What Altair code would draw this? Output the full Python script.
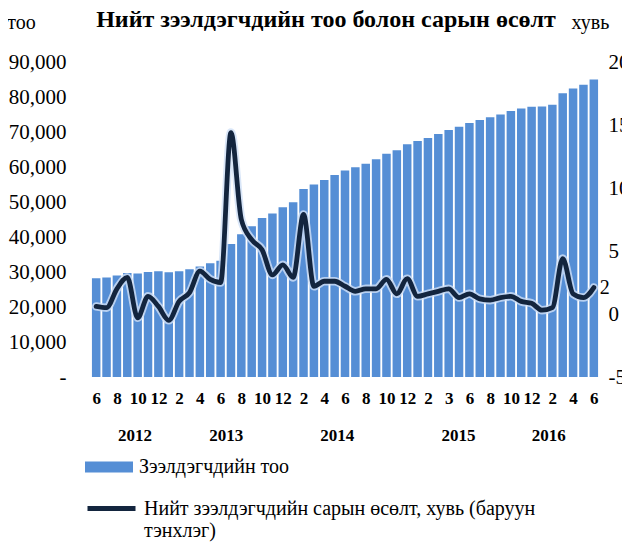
import altair as alt
import pandas as pd

# ---- data ----
month_labels = ["6", "8", "10", "12", "2", "4", "6", "8", "10", "12", "2", "4", "6",
                "8", "10", "12", "2", "3", "6", "8", "10", "12", "2", "4", "6"]

borrowers = [28200, 28400, 29000, 29700, 29600, 30000, 30200, 29900, 30200, 30800,
             31600, 32500, 33200, 38000, 40800, 43100, 45400, 46700, 48500, 49900,
             53700, 55000, 56300, 57700, 59000, 59900, 60900, 62200, 63800, 64800,
             66500, 67400, 68300, 69400, 70600, 71500, 72600, 73400, 74200, 75000,
             76000, 76700, 77200, 77300, 77800, 81100, 82400, 83500, 85000]

growth = [0.6, 0.5, 2.0, 2.9, -0.3, 1.4, 0.6, -0.5, 1.0, 1.7,
          3.4, 2.75, 2.5, 14.4, 7.5, 5.9, 5.1, 3.1, 3.9, 2.9,
          7.9, 2.2, 2.6, 2.6, 2.2, 1.8, 2.0, 2.0, 2.75, 1.6,
          2.8, 1.4, 1.6, 1.8, 2.0, 1.3, 1.6, 1.2, 1.1, 1.3,
          1.4, 1.0, 0.85, 0.3, 0.5, 4.4, 1.6, 1.3, 2.1]

years = ["2012", "2013", "2014", "2015", "2016"]
year_pos = [3.7, 12.5, 23.2, 34.9, 43.6]

bar_name = "Зээлдэгчдийн тоо"
line_name = "Нийт зээлдэгчдийн сарын өсөлт, хувь (баруун тэнхлэг)"
line_lines = ["Нийт зээлдэгчдийн сарын өсөлт, хувь (баруун", "тэнхлэг)"]

FONT = "Liberation Serif"
BAR_COLOR = "#558ED5"
LINE_COLOR = "#13253E"

n = len(borrowers)
df = pd.DataFrame({
    "idx": list(range(n)),
    "x0": [i - 0.41 for i in range(n)],
    "x1": [i + 0.41 for i in range(n)],
    "borrowers": borrowers,
    "growth": growth,
    "s_bar": [bar_name] * n,
    "s_line": [line_name] * n,
})
last = df.tail(1)
ydf = pd.DataFrame({"year": years, "pos": year_pos})

xdom = alt.Scale(domain=[-0.5, n - 0.5], nice=False, zero=False)

month_expr = "[" + ",".join("'" + m + "'" for m in month_labels) + "][datum.value/2]"
year_expr = ("[" + ",".join("'" + y + "'" for y in years) + "][indexof(["
             + ",".join(str(p) for p in year_pos) + "], datum.value)]")
line_label_expr = "[" + ",".join("'" + t + "'" for t in line_lines) + "]"

bars = alt.Chart(df).mark_rect(color=BAR_COLOR).encode(
    x=alt.X("x0:Q", scale=xdom, axis=alt.Axis(
        values=list(range(0, n, 2)), labelExpr=month_expr, title=None,
        labelFont=FONT, labelFontSize=17, labelFontWeight="bold", labelColor="#000",
        labelPadding=13, ticks=False, domain=False, grid=False,
        labelOverlap=False, labelFlush=False, labelBound=False)),
    x2="x1:Q",
    y=alt.Y("borrowers:Q", scale=alt.Scale(domain=[0, 90000], nice=False),
            axis=alt.Axis(values=list(range(0, 90001, 10000)),
                          labelExpr="datum.value == 0 ? '-\u00a0\u00a0' : format(datum.value, ',')",
                          title="тоо", titleAngle=0, titleX=-70, titleY=-40,
                          titleAlign="center", titleBaseline="middle",
                          titleFont=FONT, titleFontSize=20, titleFontWeight="normal",
                          titleColor="#000",
                          labelFont=FONT, labelFontSize=21, labelColor="#000",
                          labelPadding=25, ticks=False, domain=False, grid=False,
                          labelFlush=False, labelOverlap=False)),
    y2=alt.datum(0),
    fill=alt.Fill("s_bar:N", scale=alt.Scale(range=[BAR_COLOR]),
                  legend=alt.Legend(title=None, orient="none", legendX=-6, legendY=381,
                                    symbolType="M-1,-0.23H1V0.23H-1Z", symbolSize=2304,
                                    symbolStrokeWidth=0, labelFont=FONT, labelFontSize=20,
                                    labelColor="#000", labelOffset=6, labelLimit=600)),
)

yline = alt.Scale(domain=[-5, 20], nice=False)
right_axis = alt.Axis(orient="right", values=[-5, 0, 5, 10, 15, 20],
                      labelExpr="datum.value + ''",
                      title="хувь", titleAngle=0, titleX=-9, titleY=-40,
                      titleAlign="center", titleBaseline="middle",
                      titleFont=FONT, titleFontSize=20, titleFontWeight="normal",
                      titleColor="#000",
                      labelFont=FONT, labelFontSize=21, labelColor="#000",
                      labelPadding=9, ticks=False, domain=False, grid=False,
                      labelFlush=False, labelOverlap=False)

halo = alt.Chart(df).mark_line(color="#cfe0f6", strokeWidth=8.5, interpolate="monotone",
                               strokeCap="round", opacity=0.8).encode(
    x=alt.X("idx:Q", scale=xdom, axis=None),
    y=alt.Y("growth:Q", scale=yline, axis=right_axis),
)

line = alt.Chart(df).mark_line(strokeWidth=4.8, interpolate="monotone",
                               strokeCap="round", strokeJoin="round").encode(
    x=alt.X("idx:Q", scale=xdom, axis=None),
    y=alt.Y("growth:Q", scale=yline, axis=right_axis),
    stroke=alt.Stroke("s_line:N", scale=alt.Scale(range=[LINE_COLOR]),
                      legend=alt.Legend(title=None, orient="none", legendX=-6, legendY=420,
                                        symbolType="stroke", symbolSize=2304,
                                        symbolStrokeWidth=5, labelFont=FONT, labelFontSize=20,
                                        labelColor="#000", labelOffset=6, labelLimit=700,
                                        labelExpr=line_label_expr)),
)

end_label = alt.Chart(last).mark_text(align="left", baseline="middle", dx=6, font=FONT,
                                      fontSize=20, color="#000").encode(
    x=alt.X("idx:Q", scale=xdom, axis=None),
    y=alt.Y("growth:Q", scale=yline, axis=right_axis),
    text=alt.Text("growth:Q", format=".0f"),
)

line_layer = alt.layer(halo, line, end_label)

year_axis = alt.Chart(ydf).mark_point(opacity=0).encode(
    x=alt.X("pos:Q", scale=xdom, axis=alt.Axis(
        orient="bottom", values=year_pos, labelExpr=year_expr, title=None,
        labelFont=FONT, labelFontSize=17, labelFontWeight="bold", labelColor="#000",
        labelPadding=50, ticks=False, domain=False, grid=False,
        labelOverlap=False, labelFlush=False, labelBound=False)),
)

chart = alt.layer(bars, line_layer, year_axis).resolve_scale(
    y="independent"
).resolve_axis(
    x="independent", y="independent"
).properties(
    width=508, height=315,
    autosize=alt.AutoSizeParams(type="none"),
    padding={"left": 83, "top": 54, "right": 23, "bottom": 168},
    title=alt.TitleParams(text="Нийт зээлдэгчдийн тоо болон сарын өсөлт", font=FONT,
                          fontSize=24, fontWeight="bold", color="#000", anchor="middle",
                          offset=0, dy=20, dx=-19),
).configure_view(strokeWidth=0)

chart.save("out.html", embed_options={"renderer": "svg", "actions": False})
